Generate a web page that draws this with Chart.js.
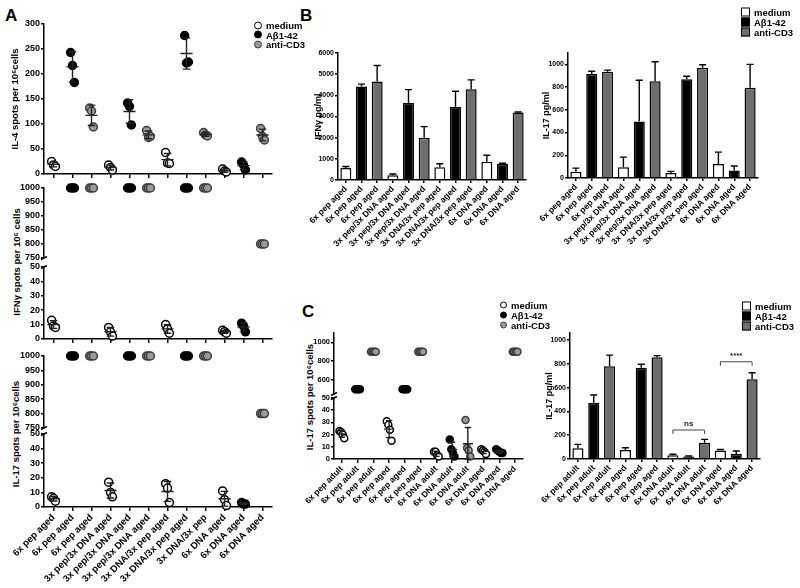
<!DOCTYPE html>
<html>
<head>
<meta charset="utf-8">
<script src="https://cdn.jsdelivr.net/npm/chart.js"></script>
<style>
  body { margin: 0; background: #fff; }
  #fig { position: relative; width: 800px; height: 588px; font-family: 'Liberation Sans', Arial, sans-serif; font-weight: bold; color: #000; overflow: hidden; }
  #fig canvas { position: absolute; }
  .letter { position: absolute; font-size: 17px; line-height: 17px; }
  .ytitle { position: absolute; font-size: 9.5px; white-space: nowrap; transform: translate(-50%, -50%) rotate(-90deg); }
  .leg { position: absolute; display: flex; align-items: center; transform: translateY(-50%); font-size: 9.5px; white-space: nowrap; }
  .mark { box-sizing: border-box; border: 1.5px solid #000; margin-right: 4px; display: inline-block; }
</style>
</head>
<body>
<div id="fig">
  <div class="letter" style="left:5px;top:7px">A</div>
  <div class="letter" style="left:300px;top:7px">B</div>
  <div class="letter" style="left:302px;top:303px">C</div>
  <div class="ytitle" style="left:16px;top:262px">IFNγ spots per 10⁶ cells</div>
  <div class="ytitle" style="left:15px;top:434px">IL-17 spots per 10⁶cells</div>
  <div class="ytitle" style="left:309px;top:397px">IL-17 spots per 10⁶cells</div>

  <canvas id="a1" width="280" height="190" style="left:0;top:0"></canvas>
  <canvas id="a2" width="280" height="86" style="left:0;top:180px"></canvas>
  <canvas id="a3" width="280" height="90" style="left:0;top:259px"></canvas>
  <canvas id="a4" width="280" height="88" style="left:0;top:348px"></canvas>
  <canvas id="a5" width="280" height="162" style="left:0;top:426px"></canvas>
  <canvas id="b1" width="260" height="260" style="left:280px;top:0"></canvas>
  <canvas id="b2" width="270" height="260" style="left:530px;top:0"></canvas>
  <canvas id="c1" width="260" height="77" style="left:280px;top:325px"></canvas>
  <canvas id="c2" width="260" height="198" style="left:280px;top:390px"></canvas>
  <canvas id="c3" width="260" height="308" style="left:540px;top:280px"></canvas>
</div>
<script>
// Stimuli
const stimuli = ['medium', 'Aβ1-42', 'anti-CD3'];

// x labels
const labelsA = ['6x pep aged', '6x pep aged', '6x pep aged',
  '3x pep/3x DNA aged', '3x pep/3x DNA aged', '3x pep/3x DNA aged',
  '3x DNA/3x pep aged', '3x DNA/3x pep aged', '3x DNA/3x pep',
  '6x DNA aged', '6x DNA aged', '6x DNA aged'];
const labelsB = ['6x pep aged', '6x pep aged', '6x pep aged',
  '3x pep/3x DNA aged', '3x pep/3x DNA aged', '3x pep/3x DNA aged',
  '3x DNA/3x pep aged', '3x DNA/3x pep aged', '3x DNA/3x pep aged',
  '6x DNA aged', '6x DNA aged', '6x DNA aged'];
const labelsC = ['6x pep adult', '6x pep adult', '6x pep adult',
  '6x pep aged', '6x pep aged', '6x pep aged',
  '6x DNA adult', '6x DNA adult', '6x DNA adult',
  '6x DNA aged', '6x DNA aged', '6x DNA aged'];

// Panel A - ELISpot, individual mice per vaccination group
const il4Medium = [[25, 18, 15], [18, 13, 8], [43, 22, 21], [10, 6, 4]];
const il4Abeta = [[243, 217, 183], [142, 135, 98], [277, 222, 224], [24, 18, 8]];
const il4CD3 = [[132, 126, 94], [87, 73, 75], [83, 78, 76], [91, 75, 68]];

const ifnMedium = [[13, 9, 8], [8, 5, 2], [10, 7, 4], [6, 5, 4]];
const ifnAbeta = [[1000, 1000, 1000], [1000, 1000, 1000], [1000, 1000, 1000], [11, 9, 5]];
const ifnCD3 = [[1000, 1000, 1000], [1000, 1000, 1000], [1000, 1000, 1000], [800, 800, 800]];

const il17Medium = [[7, 6, 4], [17, 10, 7], [16, 13, 3], [11, 5, 1]];
const il17Abeta = [[1000, 1000, 1000], [1000, 1000, 1000], [1000, 1000, 1000], [3, 2, 2]];
const il17CD3 = [[1000, 1000, 1000], [1000, 1000, 1000], [1000, 1000, 1000], [800, 800, 800]];

// Panel B - cytokine in supernatant (mean, error)
const ifnPgMedium = [570, 230, 600, 860];
const ifnPgAbeta = [4420, 3650, 3460, 760];
const ifnPgCD3 = [4650, 2000, 4290, 3190];
const ifnPgMediumErr = [70, 50, 170, 310];
const ifnPgAbetaErr = [110, 620, 730, 30];
const ifnPgCD3Err = [760, 520, 440, 20];

const il17PgMedium = [55, 94, 44, 123];
const il17PgAbeta = [915, 497, 868, 67];
const il17PgCD3 = [935, 851, 971, 795];
const il17PgMediumErr = [32, 90, 14, 105];
const il17PgAbetaErr = [24, 363, 27, 38];
const il17PgCD3Err = [14, 172, 26, 205];

// Panel C - adult vs aged
const cSpotMedium = [[23, 22, 20, 17], [31, 28, 24, 15], [6, 6, 3, 2], [8, 7, 6, 4]];
const cSpotAbeta = [[500, 500, 500, 500], [500, 500, 500, 500], [16, 8, 5, 2], [8, 7, 6, 5, 5]];
const cSpotCD3 = [[900, 900, 900, 900], [900, 900, 900, 900], [32, 9, 7, 2], [900, 900, 900, 900]];

const cPgMedium = [90, 75, 32, 72];
const cPgAbeta = [473, 767, 20, 42];
const cPgCD3 = [781, 855, 137, 670];
const cPgMediumErr = [33, 20, 8, 8];
const cPgAbetaErr = [65, 30, 5, 25];
const cPgCD3Err = [93, 15, 28, 55];
const cBrackets = [{ from: 6, to: 8, value: 244, label: 'ns' }, { from: 9, to: 11, value: 818, label: '****' }];

// Tick values
const ticksIL4 = [0, 50, 100, 150, 200, 250, 300];
const ticksHigh = [750, 800, 850, 900, 950, 1000];
const ticksLow = [0, 10, 20, 30, 40, 50];
const ticksCHigh = [600, 800, 1000];
const ticksIfnPg = [0, 1000, 2000, 3000, 4000, 5000, 6000];
const ticksIl17Pg = [0, 200, 400, 600, 800, 1000];

// Styles
const dotFill = ['#ffffff', '#000000', '#9a9a9a'];
const dotLine = ['#000000', '#000000', '#3c3c3c'];
const barFill = ['#ffffff', '#000000', '#6e6e6e'];

Chart.defaults.font.family = "'Liberation Sans', Arial, sans-serif";
Chart.defaults.font.weight = 'bold';
Chart.defaults.color = '#000';

// mean +/- SD lines for the dot plots
const meanSd = {
  id: 'meanSd',
  afterDatasetsDraw(chart, args, opts) {
    if (!opts.show) return;
    const { ctx, scales: { x, y } } = chart;
    ctx.save();
    ctx.strokeStyle = '#222';
    ctx.lineWidth = 1.4;
    chart.data.datasets.forEach((ds, s) => {
      ds.groups.forEach((vals, g) => {
        const m = vals.reduce((a, b) => a + b, 0) / vals.length;
        const sd = Math.sqrt(vals.reduce((a, b) => a + (b - m) ** 2, 0) / (vals.length - 1));
        if (sd === 0 || m < y.min || m > y.max) return;
        const c = g * 3 + s + 1;
        const px = x.getPixelForValue(c);
        const wm = x.getPixelForValue(c + 0.32) - px;
        const wc = x.getPixelForValue(c + 0.2) - px;
        const ym = y.getPixelForValue(m);
        const yt = y.getPixelForValue(Math.min(m + sd, y.max));
        const yb = y.getPixelForValue(Math.max(m - sd, y.min));
        ctx.beginPath();
        ctx.moveTo(px - wm, ym); ctx.lineTo(px + wm, ym);
        ctx.moveTo(px, yt); ctx.lineTo(px, yb);
        ctx.moveTo(px - wc, yt); ctx.lineTo(px + wc, yt);
        ctx.moveTo(px - wc, yb); ctx.lineTo(px + wc, yb);
        ctx.stroke();
      });
    });
    ctx.restore();
  }
};

// small slash where the y axis is broken
const axisBreak = {
  id: 'axisBreak',
  afterDraw(chart, args, opts) {
    if (!opts.edge) return;
    const { ctx, chartArea } = chart;
    const x = chartArea.left;
    const y = opts.edge === 'bottom' ? chartArea.bottom : chartArea.top;
    ctx.save();
    ctx.strokeStyle = '#000';
    ctx.lineWidth = 1.5;
    ctx.beginPath();
    ctx.moveTo(x - 3, y + 1.5);
    ctx.lineTo(x + 3, y - 1.5);
    ctx.stroke();
    ctx.restore();
  }
};

// upward error bars on the bars
const errorBars = {
  id: 'errorBars',
  afterDatasetsDraw(chart) {
    const { ctx, scales: { y } } = chart;
    ctx.save();
    ctx.strokeStyle = '#000';
    ctx.lineWidth = 1.4;
    chart.data.datasets.forEach((ds, i) => {
      chart.getDatasetMeta(i).data.forEach((bar, j) => {
        const v = ds.data[j];
        const e = ds.errors[j];
        if (v == null || !e) return;
        const top = y.getPixelForValue(v + e);
        ctx.beginPath();
        ctx.moveTo(bar.x, bar.y);
        ctx.lineTo(bar.x, top);
        ctx.moveTo(bar.x - 3.5, top);
        ctx.lineTo(bar.x + 3.5, top);
        ctx.stroke();
      });
    });
    ctx.restore();
  }
};

// significance brackets
const brackets = {
  id: 'brackets',
  afterDatasetsDraw(chart, args, opts) {
    if (!opts.items || !opts.items.length) return;
    const { ctx, scales: { x, y } } = chart;
    ctx.save();
    ctx.strokeStyle = '#444';
    ctx.fillStyle = '#222';
    ctx.lineWidth = 1;
    ctx.font = "bold 8px 'Liberation Sans', Arial, sans-serif";
    ctx.textAlign = 'center';
    ctx.textBaseline = 'bottom';
    opts.items.forEach(b => {
      const x1 = x.getPixelForValue(b.from);
      const x2 = x.getPixelForValue(b.to);
      const yy = y.getPixelForValue(b.value);
      ctx.beginPath();
      ctx.moveTo(x1, yy + 4); ctx.lineTo(x1, yy); ctx.lineTo(x2, yy); ctx.lineTo(x2, yy + 4);
      ctx.stroke();
      ctx.fillText(b.label, (x1 + x2) / 2, yy - 2);
    });
    ctx.restore();
  }
};

function dotDatasets(series, lo, hi, radius) {
  return series.map((groups, s) => {
    const pts = [];
    groups.forEach((vals, g) => {
      const x0 = g * 3 + s + 1;
      vals.forEach((v, i) => {
        if (v < lo || v > hi) return;
        pts.push({ x: x0 + (i - (vals.length - 1) / 2) * 0.1, y: v });
      });
    });
    return {
      label: stimuli[s],
      data: pts,
      groups,
      backgroundColor: dotFill[s],
      borderColor: dotLine[s],
      borderWidth: 1.5,
      pointRadius: radius,
      pointHoverRadius: radius,
      clip: false,
    };
  });
}

function dotChart(id, cfg) {
  new Chart(document.getElementById(id), {
    type: 'scatter',
    data: { datasets: dotDatasets(cfg.series, cfg.min, cfg.max, cfg.radius) },
    options: {
      responsive: false,
      animation: false,
      layout: { padding: cfg.pad },
      plugins: {
        legend: { display: false },
        tooltip: { enabled: false },
        meanSd: { show: cfg.means },
        axisBreak: { edge: cfg.brk },
      },
      scales: {
        x: {
          type: 'linear',
          min: 0.5,
          max: 12.5,
          display: cfg.xH > 0,
          afterBuildTicks: (s) => { s.ticks = cfg.labels.map((l, i) => ({ value: i + 1 })); },
          afterFit: (s) => { s.height = cfg.xH; },
          ticks: {
            display: !!cfg.showLabels,
            callback: (v) => cfg.labels[v - 1],
            autoSkip: false,
            minRotation: 45,
            maxRotation: 45,
            padding: 1,
            font: { size: cfg.xFont || 9 },
          },
          grid: { drawOnChartArea: false, tickLength: 4, color: '#000', lineWidth: 1.5 },
          border: { color: '#000', width: 1.5 },
        },
        y: {
          min: cfg.min,
          max: cfg.max,
          afterBuildTicks: (s) => { s.ticks = cfg.ticks.map(v => ({ value: v })); },
          afterFit: (s) => { s.width = cfg.yW; },
          ticks: { font: { size: cfg.yFont }, padding: 1, callback: (v) => String(v) },
          grid: { drawOnChartArea: false, tickLength: 3, color: '#000', lineWidth: 1.5 },
          border: { color: '#000', width: 1.5 },
          title: cfg.title
            ? { display: true, text: cfg.title, font: { size: 9.5 }, padding: { top: cfg.titlePad, bottom: 0 } }
            : { display: false },
        },
      },
    },
    plugins: [meanSd, axisBreak],
  });
}

function barDatasets(values, errors) {
  return values.map((vals, s) => {
    const data = [];
    const err = [];
    vals.forEach((v, g) => {
      for (let k = 0; k < 3; k++) {
        data.push(k === s ? v : null);
        err.push(k === s ? errors[s][g] : null);
      }
    });
    return {
      label: stimuli[s],
      data,
      errors: err,
      backgroundColor: barFill[s],
      borderColor: '#000',
      borderWidth: 1.5,
      grouped: false,
      barPercentage: 0.7,
      categoryPercentage: 1,
    };
  });
}

function barChart(id, cfg) {
  new Chart(document.getElementById(id), {
    type: 'bar',
    data: { labels: cfg.labels, datasets: barDatasets(cfg.values, cfg.errors) },
    options: {
      responsive: false,
      animation: false,
      layout: { padding: cfg.pad },
      plugins: {
        legend: { display: false },
        tooltip: { enabled: false },
        brackets: { items: cfg.brackets || [] },
      },
      scales: {
        x: {
          afterFit: (s) => { s.height = cfg.xH; },
          ticks: { autoSkip: false, minRotation: 45, maxRotation: 45, padding: 1, font: { size: 8.5 } },
          grid: { offset: false, drawOnChartArea: false, tickLength: 3, color: '#000', lineWidth: 1.5 },
          border: { color: '#000', width: 1.5 },
        },
        y: {
          min: 0,
          max: cfg.max,
          afterBuildTicks: (s) => { s.ticks = cfg.ticks.map(v => ({ value: v })); },
          afterFit: (s) => { s.width = cfg.yW; },
          ticks: { font: { size: 7 }, padding: 1, callback: (v) => String(v) },
          grid: { drawOnChartArea: false, tickLength: 3, color: '#000', lineWidth: 1.5 },
          border: { color: '#000', width: 1.5 },
          title: { display: true, text: cfg.title, font: { size: 9 }, padding: { top: cfg.titlePad, bottom: 0 } },
        },
      },
    },
    plugins: [errorBars, brackets],
  });
}

function addLegend(left, top, dy, round, size, fill, line) {
  const fig = document.getElementById('fig');
  stimuli.forEach((name, i) => {
    const item = document.createElement('div');
    item.className = 'leg';
    item.style.left = left + 'px';
    item.style.top = (top + i * dy) + 'px';
    const mark = document.createElement('span');
    mark.className = 'mark';
    mark.style.width = size + 'px';
    mark.style.height = size + 'px';
    mark.style.background = fill[i];
    mark.style.borderColor = line[i];
    if (round) mark.style.borderRadius = '50%';
    item.appendChild(mark);
    item.appendChild(document.createTextNode(name));
    fig.appendChild(item);
  });
}

// Panel A
dotChart('a1', { series: [il4Medium, il4Abeta, il4CD3], labels: labelsA, min: 0, max: 300, ticks: ticksIL4,
  pad: { top: 24, right: 8, left: 0, bottom: 0 }, yW: 44, xH: 16, yFont: 9, radius: 4, means: true,
  title: 'IL-4 spots per 10⁶cells', titlePad: 10 });
dotChart('a2', { series: [ifnMedium, ifnAbeta, ifnCD3], labels: labelsA, min: 750, max: 1000, ticks: ticksHigh,
  pad: { top: 8, right: 8, left: 0, bottom: 8 }, yW: 44, xH: 0, yFont: 9, radius: 4, means: false, brk: 'bottom' });
dotChart('a3', { series: [ifnMedium, ifnAbeta, ifnCD3], labels: labelsA, min: 0, max: 50, ticks: ticksLow,
  pad: { top: 8, right: 8, left: 0, bottom: 0 }, yW: 44, xH: 10, yFont: 9, radius: 4, means: true, brk: 'top' });
dotChart('a4', { series: [il17Medium, il17Abeta, il17CD3], labels: labelsA, min: 750, max: 1000, ticks: ticksHigh,
  pad: { top: 8, right: 8, left: 0, bottom: 8 }, yW: 44, xH: 0, yFont: 9, radius: 4, means: false, brk: 'bottom' });
dotChart('a5', { series: [il17Medium, il17Abeta, il17CD3], labels: labelsA, min: 0, max: 50, ticks: ticksLow,
  pad: { top: 8, right: 8, left: 0, bottom: 0 }, yW: 44, xH: 81, yFont: 9, radius: 4, means: true, brk: 'top',
  showLabels: true, xFont: 9.5 });

// Panel B
barChart('b1', { labels: labelsB, values: [ifnPgMedium, ifnPgAbeta, ifnPgCD3],
  errors: [ifnPgMediumErr, ifnPgAbetaErr, ifnPgCD3Err], max: 6000, ticks: ticksIfnPg,
  pad: { top: 53, right: 14, left: 0, bottom: 0 }, yW: 58, xH: 80, title: 'IFNγ pg/ml', titlePad: 33 });
barChart('b2', { labels: labelsB, values: [il17PgMedium, il17PgAbeta, il17PgCD3],
  errors: [il17PgMediumErr, il17PgAbetaErr, il17PgCD3Err], max: 1100, ticks: ticksIl17Pg,
  pad: { top: 53, right: 42, left: 0, bottom: 0 }, yW: 38, xH: 82, title: 'IL-17 pg/ml', titlePad: 11 });

// Panel C
dotChart('c1', { series: [cSpotMedium, cSpotAbeta, cSpotCD3], labels: labelsC, min: 450, max: 1100, ticks: ticksCHigh,
  pad: { top: 8, right: 17, left: 0, bottom: 8 }, yW: 54, xH: 0, yFont: 7.5, radius: 3.5, means: false, brk: 'bottom' });
dotChart('c2', { series: [cSpotMedium, cSpotAbeta, cSpotCD3], labels: labelsC, min: 0, max: 50, ticks: ticksLow,
  pad: { top: 8, right: 17, left: 0, bottom: 0 }, yW: 54, xH: 129, yFont: 7.5, radius: 3.5, means: true, brk: 'top',
  showLabels: true, xFont: 8.5 });
barChart('c3', { labels: labelsC, values: [cPgMedium, cPgAbeta, cPgCD3],
  errors: [cPgMediumErr, cPgAbetaErr, cPgCD3Err], max: 1060, ticks: ticksIl17Pg, brackets: cBrackets,
  pad: { top: 53, right: 40, left: 0, bottom: 0 }, yW: 30, xH: 129, title: 'IL-17 pg/ml', titlePad: 4 });

// Legends
addLegend(254, 25, 9.5, true, 8, dotFill, dotLine);
addLegend(741, 12, 10, false, 9, barFill, ['#000', '#000', '#000']);
addLegend(500, 305, 10, true, 7, dotFill, dotLine);
addLegend(742, 306, 10, false, 9, barFill, ['#000', '#000', '#000']);
</script>
</body>
</html>
